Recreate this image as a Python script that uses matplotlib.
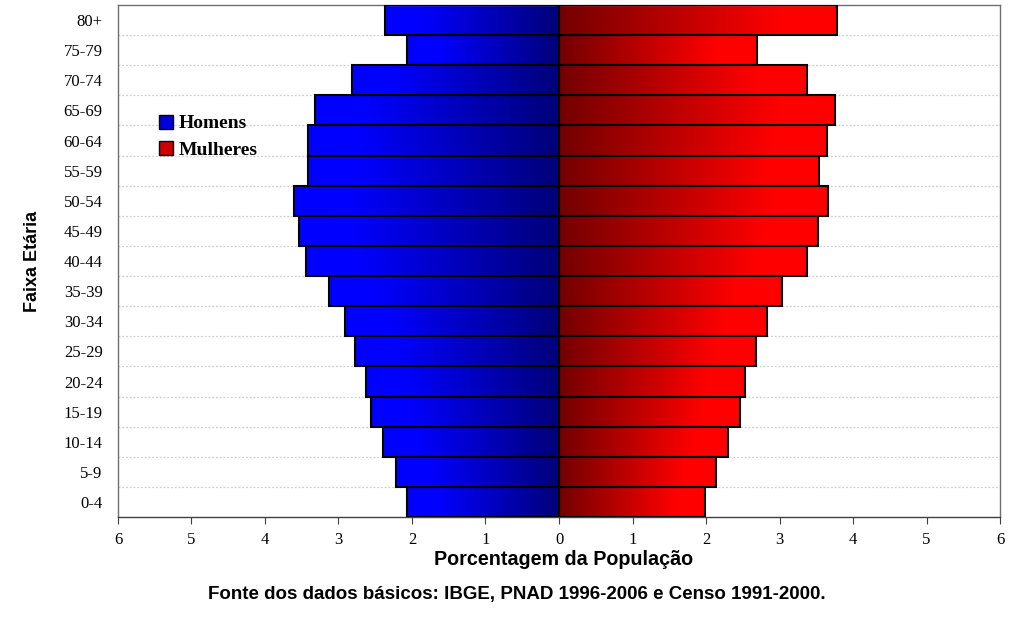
import numpy as np
import matplotlib
matplotlib.use("Agg")
import matplotlib.pyplot as plt
from matplotlib.colors import LinearSegmentedColormap
from matplotlib.patches import Patch

age_groups = ["0-4", "5-9", "10-14", "15-19", "20-24", "25-29", "30-34", "35-39",
              "40-44", "45-49", "50-54", "55-59", "60-64", "65-69", "70-74", "75-79", "80+"]
homens = [2.07, 2.22, 2.39, 2.56, 2.63, 2.78, 2.91, 3.13, 3.44, 3.54, 3.61, 3.41, 3.41, 3.32, 2.82, 2.07, 2.37]
mulheres = [1.99, 2.14, 2.30, 2.46, 2.53, 2.68, 2.83, 3.03, 3.37, 3.52, 3.66, 3.54, 3.65, 3.76, 3.37, 2.69, 3.78]
xticks = [-6, -5, -4, -3, -2, -1, 0, 1, 2, 3, 4, 5, 6]

fig = plt.figure(figsize=(10.24, 6.23), dpi=100)
ax = fig.add_axes([0.1152, 0.170, 0.8614, 0.822])

y = np.arange(len(age_groups))
bars_h = ax.barh(y, [-v for v in homens], height=1.0, facecolor="none",
                 edgecolor="black", linewidth=1.5, zorder=3)
bars_m = ax.barh(y, mulheres, height=1.0, facecolor="none",
                 edgecolor="black", linewidth=1.5, zorder=3)

cmap_blue = LinearSegmentedColormap.from_list(
    "b", [(0.0, (0.0, 0.0, 1.0)), (0.2, (0.0, 0.0, 1.0)), (1.0, (0.0, 0.0, 0.47))])
cmap_red = LinearSegmentedColormap.from_list(
    "r", [(0.0, (0.45, 0.0, 0.0)), (0.8, (1.0, 0.0, 0.0)), (1.0, (1.0, 0.0, 0.0))])
grad = np.linspace(0, 1, 256).reshape(1, -1)

for bars, cmap in ((bars_h, cmap_blue), (bars_m, cmap_red)):
    for p in bars.patches:
        x0 = p.get_x()
        w = p.get_width()
        y0 = p.get_y()
        h = p.get_height()
        xa, xb = min(x0, x0 + w), max(x0, x0 + w)
        im = ax.imshow(grad, cmap=cmap, aspect="auto", extent=(xa, xb, y0, y0 + h),
                       interpolation="bilinear", zorder=2)
        im.set_clip_path(p)

ax.set_xlim(-6, 6)
ax.set_ylim(-0.5, len(age_groups) - 0.5)
for b in np.arange(0.5, len(age_groups) - 0.5, 1.0):
    ax.axhline(b, color="#cfcfcf", linestyle=(0, (1.5, 1.5)), linewidth=0.9, zorder=1)

ax.set_yticks(y)
ax.set_yticklabels(age_groups, family="Liberation Serif", fontsize=12)
ax.set_xticks(xticks)
ax.set_xticklabels([str(abs(t)) for t in xticks], family="Liberation Serif",
                   fontsize=12)
ax.tick_params(axis="y", length=0, pad=11)
ax.tick_params(axis="x", length=5, direction="out", color="#404040", pad=6)
for s in ax.spines.values():
    s.set_color("#707070")
    s.set_linewidth(1.0)
ax.spines["bottom"].set_color("#404040")

ax.set_xlabel("Porcentagem da População", family="Liberation Sans", fontsize=14.2,
              fontweight="bold")
ax.xaxis.set_label_coords(0.505, -0.064)
ax.set_ylabel("Faixa Etária", family="Liberation Sans", fontsize=13, fontweight="bold")
ax.yaxis.set_label_coords(-0.087, 0.5)

handles = [Patch(facecolor="#0000dd", edgecolor="black", label="Homens"),
           Patch(facecolor="#cc0000", edgecolor="black", label="Mulheres")]
leg = ax.legend(handles=handles, loc="upper left", bbox_to_anchor=(0.027, 0.82),
                frameon=False, handlelength=0.72, handleheight=0.72, handletextpad=0.3,
                labelspacing=0.45, prop={"family": "Liberation Serif", "size": 14,
                                         "weight": "bold"})

fig.text(0.505, 0.039, "Fonte dos dados básicos: IBGE, PNAD 1996-2006 e Censo 1991-2000.",
         family="Liberation Sans", fontsize=13.5, fontweight="bold", ha="center")

fig.savefig("out.png", dpi=100)
